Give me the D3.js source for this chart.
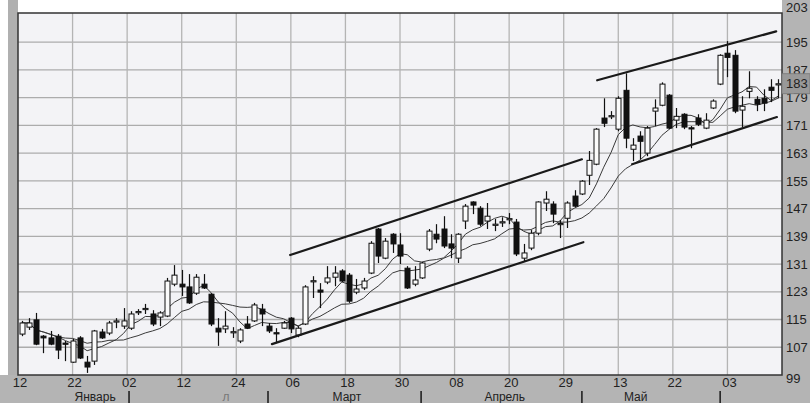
<!DOCTYPE html>
<html><head><meta charset="utf-8">
<script src="https://cdn.jsdelivr.net/npm/d3@7"></script>
<style>html,body{margin:0;padding:0;background:#fff;}svg{display:block;}</style>
</head><body>
<svg id="c" width="810" height="403"></svg>
<script>
// ---- data ----
const opens  = [110.8,112.8,114.9,110.2,109.7,110.2,108.2,102.7,109.7,102.7,103.0,111.4,111.1,114.3,113.1,112.5,117.0,117.9,116.6,115.7,116.0,125.2,125.2,124.4,122.6,125.2,122.3,112.5,112.3,111.2,108.8,113.7,114.6,118.0,113.1,111.2,112.5,115.4,110.5,113.7,126.0,123.5,125.8,127.2,129.0,127.8,122.9,124.1,128.4,141.1,132.7,139.6,136.5,129.8,125.2,127.0,135.3,139.6,141.1,136.8,132.7,143.4,148.9,147.1,143.4,142.2,142.9,143.8,143.1,132.7,135.6,139.9,148.6,148.3,142.4,144.2,150.6,151.2,156.6,159.8,173.1,173.5,169.9,181.1,164.1,167.9,163.0,175.1,176.8,179.7,172.5,174.2,170.3,173.1,170.2,176.0,182.9,191.8,191.2,175.4,180.8,178.5,178.8,182.0,182.8];
const highs  = [114.6,115.4,116.9,110.5,111.7,110.8,108.8,109.4,110.2,104.5,112.0,112.3,114.6,115.4,118.3,117.4,118.0,119.5,117.7,117.4,127.0,130.7,129.3,128.1,128.1,128.1,122.6,115.4,117.4,112.8,112.5,116.0,119.8,119.5,114.0,112.5,114.6,115.7,113.1,124.9,127.5,125.5,130.4,130.4,129.5,128.4,126.7,127.0,137.6,141.4,138.5,139.9,139.9,130.4,130.4,131.6,141.1,142.5,144.8,139.6,139.9,148.3,149.1,147.7,148.6,144.0,144.5,145.7,144.0,136.8,140.8,149.1,152.0,149.1,143.7,149.1,152.3,155.2,163.6,170.2,178.8,175.1,179.4,186.0,167.3,169.3,170.8,178.5,183.4,180.0,176.0,174.5,170.8,174.2,174.5,178.5,191.5,195.3,192.7,179.4,186.6,179.4,181.4,184.3,184.3];
const lows   = [110.2,112.0,107.6,105.3,107.6,103.6,103.0,102.5,103.6,99.6,101.9,109.4,110.5,112.5,112.3,112.0,116.3,116.6,113.1,113.1,115.7,124.6,121.8,119.5,122.1,123.8,113.1,107.4,111.1,109.7,108.2,112.3,114.3,113.1,111.1,108.2,112.3,111.1,109.9,113.4,121.2,118.3,125.2,124.6,125.8,119.8,122.3,123.5,128.1,131.3,132.4,134.2,131.0,123.8,124.6,126.7,134.7,137.0,135.6,132.7,131.3,141.1,145.4,141.9,141.1,140.5,141.7,142.5,133.3,131.6,135.0,139.3,146.3,142.8,138.5,141.4,147.4,150.9,153.8,159.5,170.5,172.8,169.3,164.4,160.7,161.2,162.1,170.8,176.5,169.9,170.2,169.9,164.4,170.8,169.9,175.7,182.6,184.9,174.5,170.5,178.8,175.1,175.1,177.7,178.8];
const closes = [114.0,114.0,107.9,109.7,107.9,106.2,107.9,108.8,103.9,101.3,111.7,109.7,114.0,114.6,114.6,116.6,117.3,118.2,113.7,116.9,126.1,127.8,124.4,119.8,127.2,124.1,113.7,111.4,113.1,111.5,112.0,112.5,119.2,116.6,111.7,111.0,114.0,112.3,112.5,124.4,126.2,122.9,127.0,128.4,126.1,120.3,123.8,126.1,137.0,133.3,137.6,136.8,133.3,124.1,126.4,131.3,140.5,138.2,136.2,135.6,139.6,147.7,148.0,142.5,144.8,142.5,143.2,144.1,133.9,134.2,139.9,148.9,149.7,145.4,142.7,148.6,147.7,154.9,160.9,169.9,171.6,173.8,178.8,167.3,165.3,166.4,170.2,176.0,182.9,170.2,173.6,170.5,170.1,171.3,172.5,178.0,191.2,190.6,175.1,176.5,181.7,177.1,177.4,181.1,183.0];

const maPeriods = [6, 13];
const lastPrice = 183;

const yTicks = [99,107,115,123,131,139,147,155,163,171,179,187,195,203];
const xTickLabels = ["12","22","02","12","24","06","18","30","08","20","29","13","22","03"];
const xTickIndex  = [-0.5,7,14.5,22,29.5,37,44.5,52,59.5,67,74.5,82,89.5,97];

const monthNames = ["Январь","л","Март","Апрель","Май"];
const monthLabelIndex = [10.1,28.1,44.7,66.4,84.4];
const monthSeparators = [14.76,33.86,54.9,77.0,96.0];

// trend channel lines: [index, price] at start and end
const trendStart = [[34.4,107.9],[36.9,133.6],[79.1,184.0],[83.9,159.8]];
const trendEnd   = [[77.2,137.3],[77.0,161.2],[103.7,198.1],[103.8,173.4]];

// ---- layout ----
const L = 18, R = 782, T = 13, B = 375;
const svg = d3.select("#c");
const x = d3.scaleLinear().domain([-0.5, closes.length - 0.5]).range([L, R]);
const y = d3.scaleLinear().domain([99, 203.4]).range([B, T]);

// backgrounds
svg.append("rect").attr("x",0).attr("y",0).attr("width",810).attr("height",403).attr("fill","#ffffff");
svg.append("rect").attr("x",0).attr("y",B).attr("width",810).attr("height",403-B).attr("fill","#b4b4b4");
svg.append("rect").attr("x",R).attr("y",0).attr("width",810-R).attr("height",403).attr("fill","#b4b4b4");
svg.append("rect").attr("x",8).attr("y",0).attr("width",L-8).attr("height",B).attr("fill","#b0b0b0");
svg.append("rect").attr("x",L).attr("y",T).attr("width",R-L).attr("height",B-T).attr("fill","#f3f3f6");

// grid
const g = svg.append("g");
g.selectAll("line.hg").data(yTicks.filter(v => v > 99 && v < 203)).join("line")
  .attr("x1",L).attr("x2",R).attr("y1",d=>y(d)).attr("y2",d=>y(d))
  .attr("stroke","#acacac").attr("stroke-width",1.3);
g.selectAll("line.vg").data(xTickIndex.slice(1)).join("line")
  .attr("x1",d=>x(d)).attr("x2",d=>x(d)).attr("y1",T).attr("y2",B)
  .attr("stroke","#b4b4b4").attr("stroke-width",1.3);

// moving averages (simple, of closes)
const maLine = d3.line().x((d,i)=>x(i)).y(d=>y(d));
maPeriods.forEach(p => {
  const ma = closes.map((c,i) => d3.mean(closes.slice(Math.max(0,i-p+1), i+1)));
  svg.append("path").datum(ma).attr("d", maLine)
    .attr("fill","none").attr("stroke","#3a3a3a").attr("stroke-width",1);
});

// candles
const bw = 5;
const cg = svg.append("g");
const idx = d3.range(closes.length);
cg.selectAll("line.w").data(idx).join("line")
  .attr("x1",i=>Math.round(x(i))+0.5).attr("x2",i=>Math.round(x(i))+0.5)
  .attr("y1",i=>y(highs[i])).attr("y2",i=>y(lows[i]))
  .attr("stroke","#111").attr("stroke-width",1.2);
cg.selectAll("rect.b").data(idx).join("rect")
  .attr("x",i=>Math.round(x(i))+0.5-bw/2)
  .attr("y",i=>y(Math.max(opens[i],closes[i])))
  .attr("width",bw)
  .attr("height",i=>Math.max(1.2, Math.abs(y(opens[i])-y(closes[i]))))
  .attr("fill",i=>closes[i]>=opens[i] ? "#fbfbfb" : "#111")
  .attr("stroke","#111").attr("stroke-width",1);

// trend lines
svg.selectAll("line.t").data(d3.range(trendStart.length)).join("line")
  .attr("x1",k=>x(trendStart[k][0])).attr("y1",k=>y(trendStart[k][1]))
  .attr("x2",k=>x(trendEnd[k][0])).attr("y2",k=>y(trendEnd[k][1]))
  .attr("stroke","#1a1a1a").attr("stroke-width",2.2).attr("stroke-linecap","round");

// border
svg.append("rect").attr("x",L).attr("y",T).attr("width",R-L).attr("height",B-T)
  .attr("fill","none").attr("stroke","#333").attr("stroke-width",1.5);

// right axis labels
const font = "Liberation Sans, Arial, sans-serif";
svg.selectAll("text.yl").data(yTicks).join("text")
  .attr("x",786).attr("y",d => d===203 ? 12 : (d===99 ? y(d)+3 : y(d)))
  .attr("dy",d => d===203 ? null : "0.36em").attr("font-family",font).attr("font-size",13)
  .attr("fill","#222").text(d=>d);

// last price marker
svg.append("rect").attr("x",R).attr("y",y(lastPrice)-10).attr("width",810-R).attr("height",20)
  .attr("fill","#999").attr("stroke","#777").attr("stroke-width",0.8);
svg.append("text").attr("x",786).attr("y",y(lastPrice)).attr("dy","0.36em")
  .attr("font-family",font).attr("font-size",13).attr("fill","#222").text(lastPrice);

// bottom tick labels
svg.selectAll("text.xl").data(xTickLabels).join("text")
  .attr("x",(d,i)=>x(xTickIndex[i])+2).attr("y",387)
  .attr("text-anchor","middle").attr("font-family",font).attr("font-size",13)
  .attr("fill","#222").text(d=>d);

// month labels
svg.selectAll("text.ml").data(monthNames).join("text")
  .attr("x",(d,i)=>x(monthLabelIndex[i])).attr("y",401)
  .attr("text-anchor","middle").attr("font-family",font).attr("font-size",12)
  .attr("fill",(d,i)=> i===1 ? "#777" : "#222").text(d=>d);
svg.selectAll("line.ms").data(monthSeparators).join("line")
  .attr("x1",d=>x(d)).attr("x2",d=>x(d)).attr("y1",391).attr("y2",403)
  .attr("stroke","#222").attr("stroke-width",1.6);
</script>
</body></html>
